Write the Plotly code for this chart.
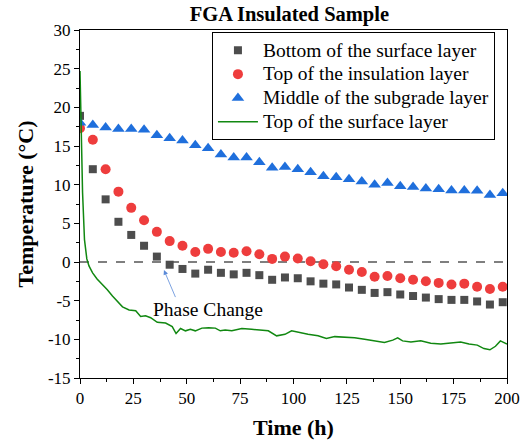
import plotly.graph_objects as go

# ---- data ----
time_h = [0, 6, 12, 18, 24, 30, 36, 42, 48, 54, 60, 66, 72, 78, 84, 90, 96, 102,
          108, 114, 120, 126, 132, 138, 144, 150, 156, 162, 168, 174, 180, 186, 192, 198]
bottom_surface = [18.9, 12.0, 8.1, 5.2, 3.5, 2.1, 0.7, -0.35, -0.9, -1.5,
                  -1.0, -1.4, -1.6, -1.4, -1.7, -2.3, -2.0, -2.1, -2.5, -2.8,
                  -2.9, -3.3, -3.6, -4.0, -3.9, -4.2, -4.4, -4.6, -4.8, -4.9,
                  -4.9, -5.1, -5.5, -5.2]
top_insulation = [17.3, 15.8, 12.0, 9.1, 7.0, 5.4, 3.9, 2.7, 2.1, 1.3,
                  1.7, 1.3, 1.2, 1.4, 1.0, 0.4, 0.7, 0.45, 0.1, -0.3,
                  -0.55, -1.0, -1.3, -1.9, -1.8, -2.1, -2.3, -2.5, -2.7, -2.9,
                  -2.8, -3.2, -3.5, -3.2]
middle_subgrade = [18.0, 17.7, 17.4, 17.2, 17.2, 17.1, 16.4, 16.0, 15.7, 15.1,
                   14.7, 13.9, 13.5, 13.5, 12.9, 12.2, 12.3, 12.0, 11.6, 11.1,
                   10.95, 10.7, 10.4, 10.0, 10.2, 9.8, 9.7, 9.5, 9.4, 9.25,
                   9.25, 9.2, 8.65, 8.9]
surface_t = [0, 0.5, 1.2, 2.1, 3.2, 4.2, 5.9, 8.0, 10.5, 12.8, 15.2, 17.5, 19.9, 23.0,
             26.1, 28.4, 30.7, 33.1, 36.2, 40.1, 43.2, 45.0, 47.1, 49.4, 51.7, 54.0,
             57.1, 60.3, 63.4, 65.7, 68.0, 71.1, 75.8, 80.4, 84.3, 88.2, 92.1, 96.0,
             99.1, 102.2, 106.8, 111.5, 115.4, 119.3, 124.0, 128.6, 133.3, 137.9,
             142.6, 146.5, 148.8, 151.1, 155.0, 159.6, 164.3, 169.0, 173.6, 178.3,
             182.2, 186.1, 189.2, 192.0, 194.6, 196.9, 200.0]
surface_v = [24.7, 17.6, 9.0, 2.9, 0.4, -0.5, -1.4, -2.2, -2.9, -3.6, -4.4, -5.1, -5.8, -6.2,
             -6.3, -7.05, -6.95, -7.2, -7.8, -7.9, -8.35, -9.25, -8.6, -8.9, -8.7, -8.9,
             -8.55, -8.5, -8.55, -8.9, -8.8, -8.9, -8.6, -8.7, -8.8, -8.9, -9.55, -9.35,
             -8.9, -9.1, -9.35, -9.55, -9.9, -9.65, -9.7, -9.8, -10.0, -10.2,
             -10.4, -10.1, -9.8, -10.2, -10.35, -10.2, -10.5, -10.6, -10.5, -10.35,
             -10.6, -10.75, -11.2, -11.35, -10.9, -10.2, -10.6]
series_names = ["Bottom of the surface layer", "Top of the insulation layer",
                "Middle of the subgrade layer", "Top of the surface layer"]
x_ticks = [0, 25, 50, 75, 100, 125, 150, 175, 200]
y_ticks = [-15, -10, -5, 0, 5, 10, 15, 20, 25, 30]
phase_head = (39.3, -1.03)
phase_tail = (45.0, -4.73)
phase_text_pos = (59.9, -6.2)

FONT = "Liberation Serif"


def legend_label(name):
    return '<span style="font-size:19.5px">' + name + "</span>"


fig = go.Figure()
fig.add_trace(go.Scatter(x=time_h, y=bottom_surface, mode="markers",
                         name=legend_label(series_names[0]),
                         marker=dict(symbol="square", size=8, color="#4d4d4d",
                                     line=dict(width=0))))
fig.add_trace(go.Scatter(x=time_h, y=top_insulation, mode="markers",
                         name=legend_label(series_names[1]),
                         marker=dict(symbol="circle", size=10, color="#ee3d3d",
                                     line=dict(width=0))))
fig.add_trace(go.Scatter(x=time_h, y=middle_subgrade, mode="markers",
                         name=legend_label(series_names[2]),
                         marker=dict(symbol="triangle-up", size=11, color="#1f6fdc",
                                     line=dict(width=0))))
fig.add_trace(go.Scatter(x=surface_t, y=surface_v, mode="lines",
                         name=legend_label(series_names[3]),
                         line=dict(color="#118811", width=1.5)))

fig.add_shape(type="line", xref="x", yref="y", x0=0, x1=200, y0=0, y1=0,
              line=dict(color="black", width=1.2, dash="dash"), layer="below")

fig.add_annotation(x=phase_head[0], y=phase_head[1], ax=phase_tail[0], ay=phase_tail[1],
                   axref="x", ayref="y", xref="x", yref="y", text="", showarrow=True,
                   arrowhead=2, arrowsize=1.2, arrowwidth=0.8, arrowcolor="#5a8ad8")
fig.add_annotation(x=phase_text_pos[0], y=phase_text_pos[1], xref="x", yref="y",
                   text="Phase Change", showarrow=False,
                   font=dict(family=FONT, size=19.5, color="black"))

axis_common = dict(showline=True, linecolor="black", linewidth=1, mirror=True,
                   ticks="outside", ticklen=5, tickwidth=1, tickcolor="black",
                   showgrid=False, zeroline=False,
                   tickfont=dict(family=FONT, size=17, color="black"))

fig.update_xaxes(range=[0, 200], tickvals=x_ticks, ticktext=[str(v) for v in x_ticks],
                 minor=dict(ticks="outside", ticklen=3, dtick=12.5, tickcolor="black"),
                 title=dict(text="<b>Time (h)</b>", standoff=12,
                            font=dict(family=FONT, size=22, color="black")),
                 **axis_common)
fig.update_yaxes(range=[-15, 30], tickvals=y_ticks, ticktext=[str(v) for v in y_ticks],
                 minor=dict(ticks="outside", ticklen=3, dtick=2.5, tickcolor="black"),
                 title=dict(text="<b>Temperature (°C)</b>", standoff=8,
                            font=dict(family=FONT, size=22, color="black")),
                 **axis_common)

fig.update_layout(
    width=532, height=448,
    margin=dict(l=80, r=22, t=30, b=68),
    paper_bgcolor="white", plot_bgcolor="white",
    title=dict(text="<b>FGA Insulated Sample</b>", x=0.544, xanchor="center",
               y=1 - 14 / 448, yanchor="middle", yref="container",
               font=dict(family=FONT, size=20.5, color="black")),
    legend=dict(x=0.309, xanchor="left", y=0.993, yanchor="top",
                bordercolor="black", borderwidth=1, bgcolor="white",
                font=dict(family=FONT, size=16, color="black"),
                itemwidth=40, tracegroupgap=0),
    showlegend=True,
)

fig.write_html("out.html")
